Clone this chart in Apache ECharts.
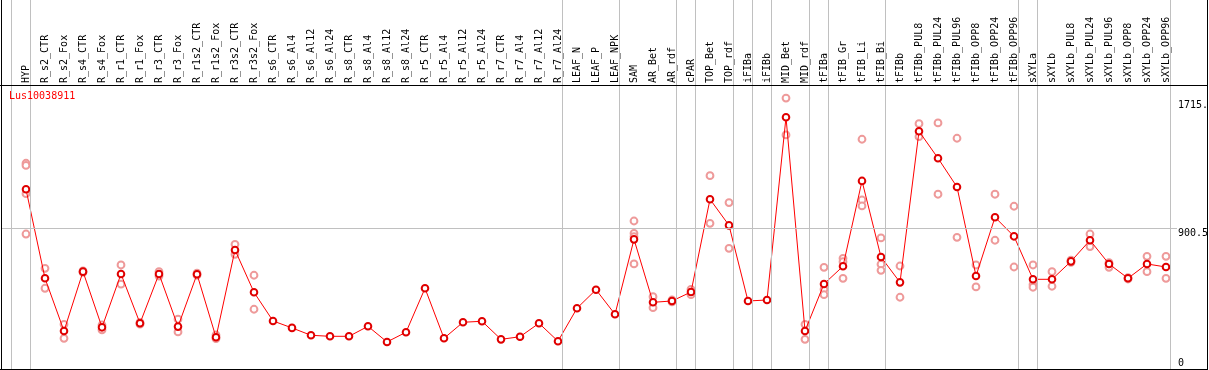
<!DOCTYPE html>
<html>
<head>
<meta charset="utf-8">
<script src="https://cdn.jsdelivr.net/npm/echarts@6/dist/echarts.min.js"></script>
<style>
html,body{margin:0;padding:0;background:#fff;}
#chart{width:1209px;height:370px;}
</style>
</head>
<body>
<div id="chart"></div>
<script>
var titleText = 'Lus10038911';

var categories = ['HYP','R_s2_CTR','R_s2_Fox','R_s4_CTR','R_s4_Fox','R_r1_CTR','R_r1_Fox','R_r3_CTR','R_r3_Fox',
  'R_r1s2_CTR','R_r1s2_Fox','R_r3s2_CTR','R_r3s2_Fox','R_s6_CTR','R_s6_Al4','R_s6_Al12','R_s6_Al24',
  'R_s8_CTR','R_s8_Al4','R_s8_Al12','R_s8_Al24','R_r5_CTR','R_r5_Al4','R_r5_Al12','R_r5_Al24',
  'R_r7_CTR','R_r7_Al4','R_r7_Al12','R_r7_Al24','LEAF_N','LEAF_P','LEAF_NPK','SAM','AR_Bet','AR_rdf',
  'cPAR','TOP_Bet','TOP_rdf','iFIBa','iFIBb','MID_Bet','MID_rdf','tFIBa','tFIB_Gr','tFIB_Li','tFIB_Bi',
  'tFIBb','tFIBb_PUL8','tFIBb_PUL24','tFIBb_PUL96','tFIBb_OPP8','tFIBb_OPP24','tFIBb_OPP96',
  'sXYLa','sXYLb','sXYLb_PUL8','sXYLb_PUL24','sXYLb_PUL96','sXYLb_OPP8','sXYLb_OPP24','sXYLb_OPP96'];

var means = [1170,555,191,601,216,585,244,585,221,583,147,751,458,260,212,161,154,154,223,115,182,486,140,251,258,
  133,151,244,120,348,476,306,824,389,398,460,1101,921,398,405,1668,191,516,638,1228,702,527,1571,1385,1186,
  571,977,845,548,548,672,818,654,555,654,633];

var replicates = [
  [1350,1335,1140,861],[624,486],[237,140],[606,596],[232,198],[647,514],[250,238],[601,570],[272,184],
  [590,576],[163,138],[790,721],[576,341],[],[],[],[],[],[],[],[],[],[],[],[],[],[],[],[],[],[],[],
  [951,866,843,654],[428,352],[405,392],[479,442],[1264,935],[1078,762],[],[],[1801,1546],[237,133],
  [631,479,442],[693,670,555],[1516,1096,1055],[834,652,610],[640,424],[1624,1534],[1629,1136],[1523,838],
  [647,495],[1136,818],[1053,633],[647,511,493],[601,500],[680,665],[861,774],[663,631],[560,550],[707,601],[707,555]
];

// group separators drawn just after these category indexes
var groupEnds = [-1,0,28,31,34,35,37,38,39,41,42,45,52,53,60];

var yMin = -72.04, yMax = 1891.05;
var yTickValues = [0, 900.5];
var yTopTick = [1715.2];
var gridLineValue = 900.5;

var FONT = 'DejaVu Sans Mono';
var chart = echarts.init(document.getElementById('chart'), null, {renderer:'canvas'});

var meanData = means.map(function(v,i){return [i,v];});
var repData = [];
replicates.forEach(function(arr,i){arr.forEach(function(v){repData.push([i,v]);});});

var xMin = -25/19, xMax = 1151/19;

var option = {
  animation:false,
  backgroundColor:'#fff',
  title:{text:titleText,left:9,top:91,padding:0,
    textStyle:{color:'#ff0000',fontSize:10,fontWeight:'normal',fontFamily:FONT}},
  grid:[
    {left:1,top:85,width:1176,height:284,outerBoundsMode:'none',containLabel:false},
    {left:1,top:0,width:1176,height:369,outerBoundsMode:'none',containLabel:false},
    {left:16.5,top:85,width:1159,height:284,outerBoundsMode:'none',containLabel:false}
  ],
  xAxis:[
    {gridIndex:0,type:'value',min:xMin,max:xMax,show:false},
    {gridIndex:1,type:'value',min:xMin,max:xMax,show:false},
    {gridIndex:2,type:'category',data:categories,position:'top',boundaryGap:true,
      axisLine:{show:false},axisTick:{show:false},splitLine:{show:false},
      axisLabel:{rotate:90,interval:0,margin:2,fontSize:10,fontFamily:FONT,color:'#000'}}
  ],
  yAxis:[
    {gridIndex:0,type:'value',min:yMin,max:yMax,position:'right',
      axisLine:{show:false},axisTick:{show:false},splitLine:{show:false},
      axisLabel:{customValues:yTickValues,margin:1,verticalAlign:'top',fontSize:10,fontFamily:FONT,color:'#000',
        formatter:function(v){return String(v);}}},
    {gridIndex:0,type:'value',min:yMin,max:yMax,position:'right',
      axisLine:{show:false},axisTick:{show:false},splitLine:{show:false},
      axisLabel:{customValues:yTopTick,margin:1,verticalAlign:'bottom',fontSize:10,fontFamily:FONT,color:'#000',
        formatter:function(v){return String(v);}}},
    {gridIndex:1,type:'value',min:0,max:1,show:false},
    {gridIndex:2,type:'value',min:0,max:1,show:false}
  ],
  series:[
    {type:'line',xAxisIndex:1,yAxisIndex:2,data:[],silent:true,z:1,
      markLine:{silent:true,symbol:'none',animation:false,label:{show:false},
        lineStyle:{color:'#c0c0c0',width:1,type:'solid'},
        data:groupEnds.map(function(g){return {xAxis:g+0.24};})}},
    {type:'line',xAxisIndex:0,yAxisIndex:0,data:[],silent:true,z:1,
      markLine:{silent:true,symbol:'none',animation:false,label:{show:false},
        lineStyle:{color:'#c0c0c0',width:1,type:'solid'},
        data:[{yAxis:gridLineValue}]}},
    {type:'scatter',xAxisIndex:0,yAxisIndex:0,data:repData,z:2,
      symbol:'emptyCircle',symbolSize:6.8,
      itemStyle:{color:'#ee9a9a',borderWidth:1.2,opacity:1}},
    {type:'line',xAxisIndex:0,yAxisIndex:0,data:meanData,z:3,
      symbol:'emptyCircle',symbolSize:6.6,showAllSymbol:true,
      lineStyle:{color:'#ff0000',width:1},
      itemStyle:{color:'#e00000',borderWidth:1.4}}
  ],
  graphic:[
    {type:'line',z:100,shape:{x1:0,y1:85.5,x2:1208,y2:85.5},style:{stroke:'#000',lineWidth:1}},
    {type:'line',z:100,shape:{x1:0,y1:369.5,x2:1208,y2:369.5},style:{stroke:'#000',lineWidth:1}},
    {type:'line',z:100,shape:{x1:1.5,y1:0,x2:1.5,y2:370},style:{stroke:'#000',lineWidth:1}},
    {type:'rect',z:99,shape:{x:1208,y:0,width:10,height:370},style:{fill:'#fff'}},
    {type:'line',z:100,shape:{x1:1207.5,y1:0,x2:1207.5,y2:370},style:{stroke:'#000',lineWidth:1}}
  ]
};
chart.setOption(option);
</script>
</body>
</html>
